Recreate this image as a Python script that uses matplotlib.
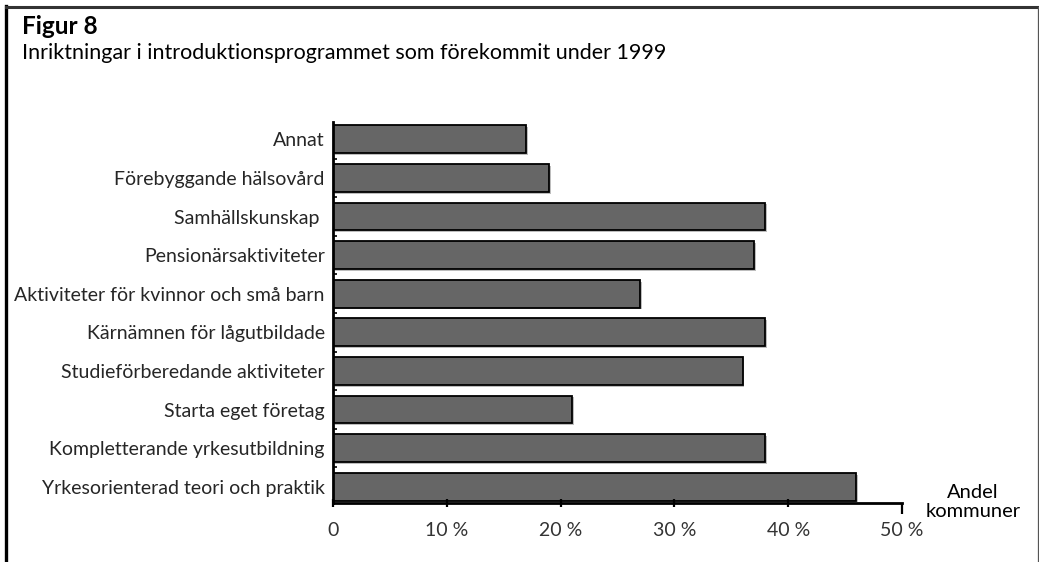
import numpy as np
import matplotlib
matplotlib.use("Agg")
import matplotlib.pyplot as plt
import matplotlib.patheffects as pe
from matplotlib.lines import Line2D

plt.rcParams['font.family'] = ['Lato', 'DejaVu Sans']

# Data (bottom to top as drawn)
categories = [
    "Yrkesorienterad teori och praktik",
    "Kompletterande yrkesutbildning",
    "Starta eget företag",
    "Studieförberedande aktiviteter",
    "Kärnämnen för lågutbildade",
    "Aktiviteter för kvinnor och små barn",
    "Pensionärsaktiviteter",
    "Samhällskunskap ",
    "Förebyggande hälsovård",
    "Annat",
]
values = [46, 38, 21, 36, 38, 27, 37, 38, 19, 17]
xticks = [0, 10, 20, 30, 40, 50]
xticklabels = ["0", "10 %", "20 %", "30 %", "40 %", "50 %"]

W, H = 1039, 562
fig = plt.figure(figsize=(W / 100, H / 100), dpi=100)

# outer frame (open at the bottom)
fig.add_artist(Line2D([6 / W, 6 / W], [0, 1 - 6 / H], transform=fig.transFigure,
                      color='black', lw=2.4, solid_capstyle='projecting'))
fig.add_artist(Line2D([6 / W, 1037.5 / W], [1 - 6.5 / H, 1 - 6.5 / H], transform=fig.transFigure,
                      color='#333333', lw=2.2))
fig.add_artist(Line2D([1037.5 / W, 1037.5 / W], [0, 1 - 6.5 / H], transform=fig.transFigure,
                      color='#555555', lw=0.9))

fig.text(22 / W, 1 - 33.5 / H, "Figur 8", fontsize=17.5, fontweight='bold', color='black',
         ha='left', va='baseline')
fig.text(22 / W, 1 - 59 / H, "Inriktningar i introduktionsprogrammet som förekommit under 1999",
         fontsize=15.5, color='black', ha='left', va='baseline')

ax = fig.add_axes([333 / W, (H - 503) / H, (902 - 333) / W, (503 - 122) / H])
y = np.arange(len(categories))
bars = ax.barh(y, values, height=0.72, color='#666666', edgecolor='black', linewidth=1.3)
for b in bars:
    b.set_path_effects([pe.SimplePatchShadow(offset=(1.2, -1.2), shadow_rgbFace='#bdbdbd', alpha=1),
                        pe.Normal()])

ax.set_xlim(0, 50)
ax.set_ylim(-0.42, len(categories) - 0.55)
ax.set_yticks(y)
ax.set_yticklabels(categories, fontsize=14, color='#262626')
ax.set_yticks(np.arange(len(categories) - 1) + 0.5, minor=True)
ax.tick_params(axis='y', which='major', length=0, pad=6)
ax.tick_params(axis='y', which='minor', direction='in', length=3, width=1.2, color='black')

ax.set_xticks(xticks)
ax.set_xticklabels(xticklabels, fontsize=14, color='#333333')
ax.tick_params(axis='x', which='major', direction='inout', length=6, width=1.6, pad=11, color='black')
last = ax.xaxis.get_major_ticks()[-1]
last.tick1line.set_marker(3)  # TICKUP
last.tick1line.set_markersize(8)

for s in ['top', 'right']:
    ax.spines[s].set_visible(False)
ax.spines['left'].set_linewidth(2)
ax.spines['bottom'].set_linewidth(2)
ax.set_facecolor('none')

fig.text(973 / W, 1 - 502 / H, "Andel\nkommuner", fontsize=14.5, color='black',
         ha='center', va='center', linespacing=1.1)

fig.savefig("out.png", dpi=100)
